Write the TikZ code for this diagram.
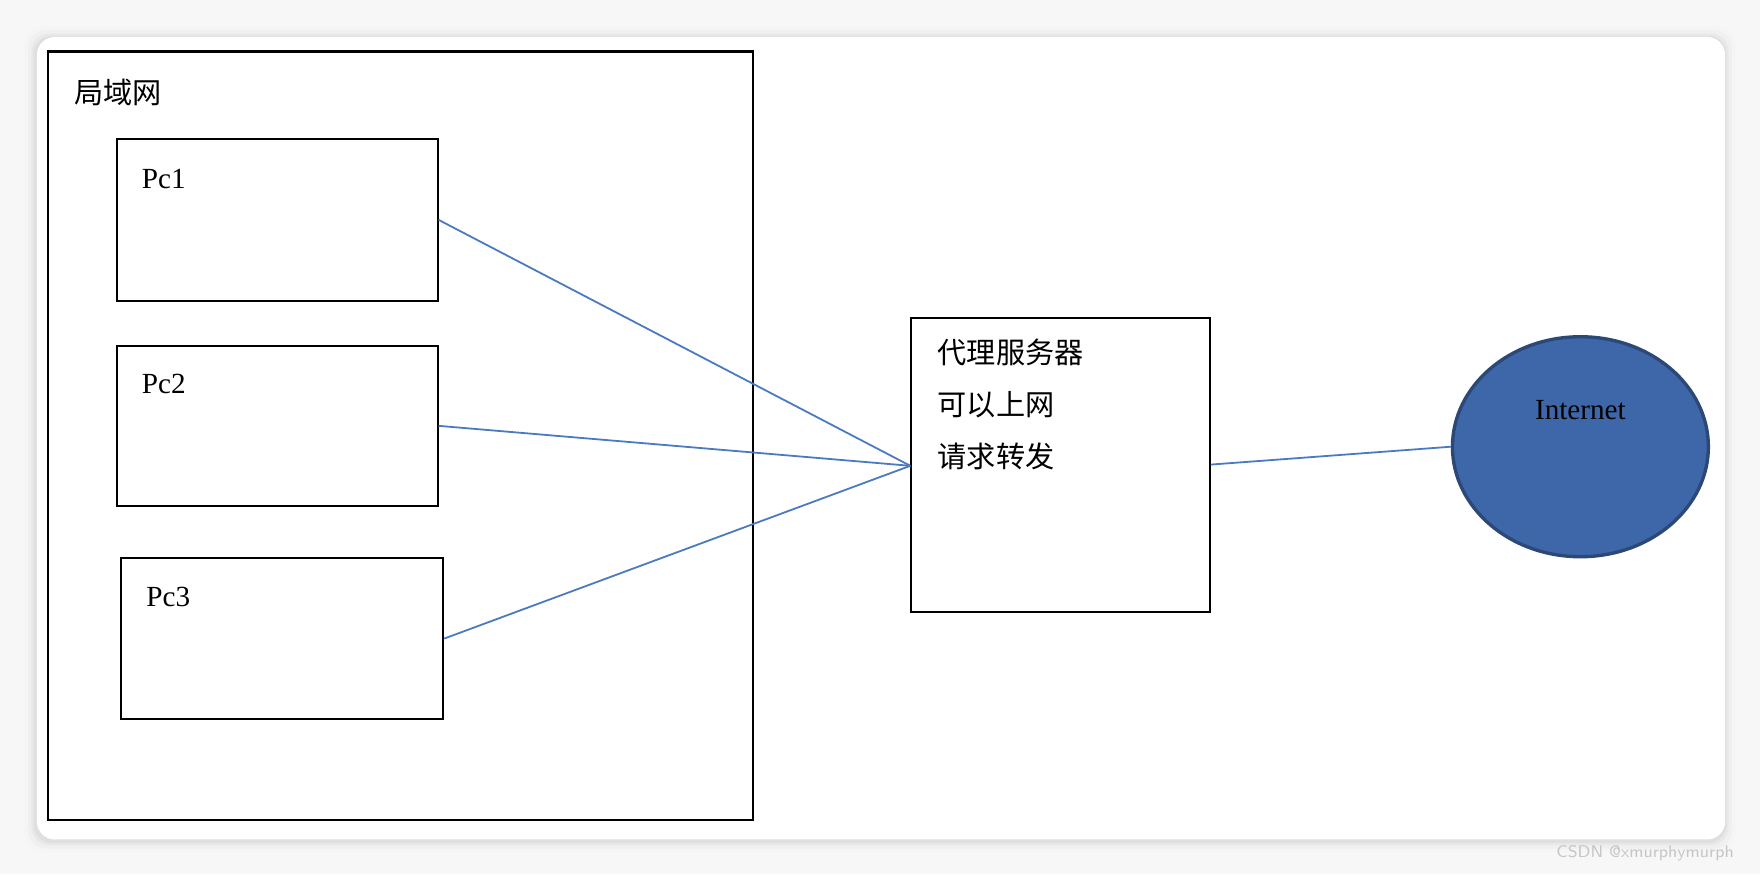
\documentclass[tikz,border=0pt]{standalone}
\usepackage{fontspec}
\setmainfont{Liberation Serif}
\newfontfamily\cjk{Noto Sans CJK SC}
\usetikzlibrary{shapes.geometric}
\definecolor{linkblue}{HTML}{4A7AC0}
\definecolor{netfill}{HTML}{3E67AA}
\definecolor{netdraw}{HTML}{2B4877}
\begin{document}
\begin{tikzpicture}[x=0.5pt,y=-0.5pt,
  box/.style={draw=black,line width=0.9pt,inner sep=0pt,anchor=north west,fill=white},
  lbl/.style={anchor=north west,inner sep=0pt,font=\fontsize{13}{15}\selectfont},
  link/.style={draw=linkblue,line width=0.8pt}]
\useasboundingbox (0,0) rectangle (1568,779);
\fill[gray!6] (0,0) rectangle (1568,779);
\foreach \d/\c in {10/gray!8,7/gray!12,4/gray!18,2/gray!25}
  \fill[\c,rounded corners=8] (32-\d,32-\d+2) rectangle (1536+\d,747+\d+2);
\node[box,draw=none,rounded corners=8,minimum width=752pt,minimum height=357.5pt] (card) at (32,32) {};
\node[box,minimum width=314pt,minimum height=342.5pt] (lan) at (42,45) {};
\node[lbl] (lanl) at (66,70) {\cjk 局域网};
\node[box,minimum width=143pt,minimum height=72pt] (pc1) at (103,123) {};
\node[lbl] (pc1l) at (126,150) {Pc1};
\node[box,minimum width=143pt,minimum height=71.5pt] (pc2) at (103,307) {};
\node[lbl] (pc2l) at (126,333) {Pc2};
\node[box,minimum width=143.5pt,minimum height=72pt] (pc3) at (107,496) {};
\node[lbl] (pc3l) at (130,523) {Pc3};
\node[box,minimum width=133pt,minimum height=131pt] (proxy) at (811,282) {};
\node[lbl,align=left,font=\fontsize{13}{23}\selectfont\cjk] (proxyl) at (835,302) {代理服务器\\可以上网\\请求转发};
\node[ellipse,draw=netdraw,fill=netfill,line width=1.5pt,minimum width=114pt,minimum height=98pt,inner sep=0pt] (net) at (1408,398) {};
\node[lbl,anchor=center,font=\fontsize{13}{15}\selectfont] (netl) at (1408,365) {Internet};
\coordinate (pin) at (811,415);
\draw[link] (pc1.east) -- (pin);
\draw[link] (pc2.east) -- (pin);
\draw[link] (pc3.east) -- (pin);
\draw[link] (proxy.east) -- (net.west);
\node[anchor=east,inner sep=0pt,text=gray!45,font=\sffamily\fontsize{7.5}{9}\selectfont] (wm) at (1545,760) {CSDN @xmurphymurph};
\end{tikzpicture}
\end{document}
